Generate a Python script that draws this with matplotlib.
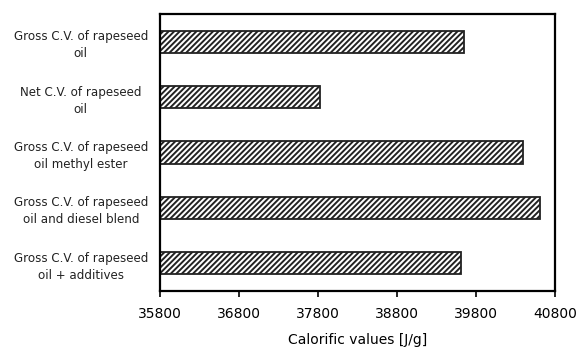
import numpy as np
import matplotlib.pyplot as plt

plt.rcParams['hatch.color'] = '#1e1e1e'
plt.rcParams['hatch.linewidth'] = 1.4

labels = [
    'Gross C.V. of rapeseed\noil',
    'Net C.V. of rapeseed\noil',
    'Gross C.V. of rapeseed\noil methyl ester',
    'Gross C.V. of rapeseed\noil and diesel blend',
    'Gross C.V. of rapeseed\noil + additives',
]
values = [39650, 37820, 40390, 40610, 39610]
xticks = [35800, 36800, 37800, 38800, 39800, 40800]

fig = plt.figure(figsize=(5.79, 3.5), dpi=100)
ax = fig.add_axes([0.2763, 0.1686, 0.6822, 0.7914])

y = np.arange(len(labels))
ax.barh(y, np.array(values) - 35800, left=35800, height=0.4,
        color='white', edgecolor='#222222', linewidth=1.3, hatch='//////')

ax.set_xlim(35800, 40800)
ax.set_ylim(len(labels) - 0.5, -0.5)
ax.set_xticks(xticks)
ax.set_xticklabels([str(t) for t in xticks], fontsize=10)
ax.set_yticks(y)
ax.set_yticklabels(labels, fontsize=8.6, ha='center', linespacing=1.4,
                   color='#222222')
ax.tick_params(axis='y', length=0, pad=57)
ax.tick_params(axis='x', direction='out', length=4.5, width=1.2, pad=7)
ax.set_xlabel('Calorific values [J/g]', fontsize=10, labelpad=9)
for s in ax.spines.values():
    s.set_linewidth(1.6)

fig.savefig('out.png', dpi=100)
